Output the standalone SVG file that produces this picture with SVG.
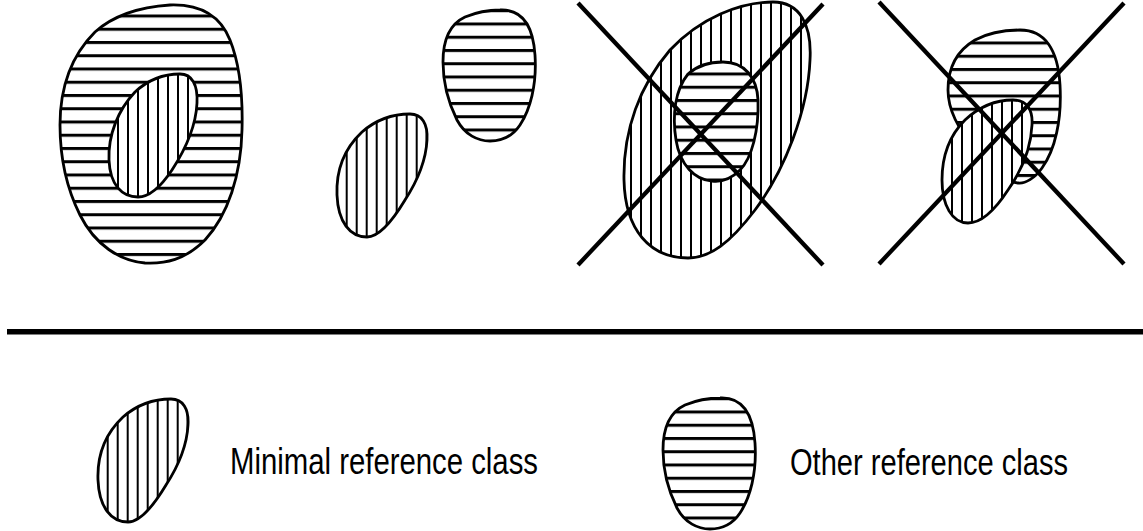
<svg xmlns="http://www.w3.org/2000/svg" width="1143" height="531" viewBox="0 0 1143 531">
<style>
.blob{stroke:#000;stroke-width:2.8;stroke-linejoin:round}
.cross{stroke:#000;stroke-width:4.3;stroke-linecap:butt}
.lbl{font-family:"Liberation Sans",Arial,sans-serif;font-size:37px;fill:#000}
</style>
<defs>
<pattern id="hA" patternUnits="userSpaceOnUse" x="0" y="14.5" width="20" height="13.25"><rect width="20" height="13.25" fill="#fff"/><rect width="20" height="3" fill="#000"/></pattern>
<pattern id="hB" patternUnits="userSpaceOnUse" x="0" y="22.5" width="20" height="13.25"><rect width="20" height="13.25" fill="#fff"/><rect width="20" height="3" fill="#000"/></pattern>
<pattern id="hC" patternUnits="userSpaceOnUse" x="0" y="72.5" width="20" height="13.25"><rect width="20" height="13.25" fill="#fff"/><rect width="20" height="3" fill="#000"/></pattern>
<pattern id="hD" patternUnits="userSpaceOnUse" x="0" y="41.5" width="20" height="13.25"><rect width="20" height="13.25" fill="#fff"/><rect width="20" height="3" fill="#000"/></pattern>
<pattern id="vA" patternUnits="userSpaceOnUse" x="127" y="0" width="10" height="20"><rect width="10" height="20" fill="#fff"/><rect width="2" height="20" fill="#000"/></pattern>
<pattern id="vB" patternUnits="userSpaceOnUse" x="345.7" y="0" width="10" height="20"><rect width="10" height="20" fill="#fff"/><rect width="2" height="20" fill="#000"/></pattern>
<pattern id="vC" patternUnits="userSpaceOnUse" x="630" y="0" width="10" height="20"><rect width="10" height="20" fill="#fff"/><rect width="2" height="20" fill="#000"/></pattern>
<pattern id="vD" patternUnits="userSpaceOnUse" x="951" y="0" width="10" height="20"><rect width="10" height="20" fill="#fff"/><rect width="2" height="20" fill="#000"/></pattern>
<path id="vshape" d="M 410,114 C 422,114 428,124 427,140 C 426,160 418,180 405,200 C 393,220 380,237 367,237 C 350,237 338,222 337,195 C 336,170 345,148 362,132 C 378,118 395,114 410,114 Z"/>
<path id="hshape" d="M 500,10 C 522,9 533,25 535,55 C 537,85 530,110 520,125 C 512,137 500,141 490,141 C 478,141 465,135 457,120 C 448,102 443,80 443,62 C 443,40 450,24 465,17 C 477,12 488,10 500,10 Z"/>
</defs>
<rect width="1143" height="531" fill="#fff"/>

<g id="panel1">
<path class="blob" fill="url(#hA)" d="M 170,5 C 200,4 220,15 230,40 C 240,65 243,95 242,130 C 241,175 228,215 205,240 C 185,260 165,264 145,263 C 120,261 95,245 80,215 C 65,185 60,155 60,125 C 60,85 72,55 95,32 C 115,14 140,7 170,5 Z"/>
<path class="blob" fill="url(#vA)" d="M 180,74 C 192,74 198,85 197,103 C 196,125 185,150 172,170 C 160,188 148,197 138,197 C 122,197 110,185 109,160 C 108,135 118,110 135,92 C 150,78 165,74 180,74 Z"/>
</g>

<g id="panel2">
<use href="#vshape" class="blob" fill="url(#vB)"/>
<use href="#hshape" class="blob" fill="url(#hB)"/>
</g>

<g id="panel3">
<path class="blob" fill="url(#vC)" d="M 773,2 C 800,2 812,25 810,60 C 808,110 785,170 755,210 C 730,243 710,258 688,258 C 650,258 625,230 624,180 C 623,130 640,85 670,50 C 700,18 740,2 773,2 Z"/>
<path class="blob" fill="url(#hC)" d="M 723,62 C 745,62 757,78 758,100 C 759,130 752,158 740,170 C 730,180 720,182 712,181 C 695,180 680,165 676,140 C 672,115 675,90 688,74 C 698,65 710,62 723,62 Z"/>
</g>

<g id="panel4">
<path class="blob" fill="url(#hD)" d="M 1020,30 C 1045,30 1058,50 1060,85 C 1062,120 1055,150 1042,168 C 1035,178 1025,184 1018,183 C 1005,182 990,170 975,150 C 958,128 948,110 948,90 C 948,65 958,50 975,40 C 988,33 1003,30 1020,30 Z"/>
<path class="blob" fill="url(#vD)" d="M 1013,100 C 1027,100 1033,110 1032,125 C 1031,148 1022,170 1008,190 C 995,210 982,223 968,223 C 952,223 942,205 942,180 C 942,155 950,135 965,120 C 980,106 997,100 1013,100 Z"/>
</g>

<g id="connectors">
<line class="cross" x1="578" y1="3" x2="823" y2="265"/>
<line class="cross" x1="823" y1="4" x2="578" y2="265"/>
<line class="cross" x1="879" y1="2" x2="1124" y2="264"/>
<line class="cross" x1="1124" y1="3" x2="879" y2="264"/>
</g>

<g id="divider">
<rect x="7" y="329" width="1136" height="5.5" fill="#000"/>
</g>

<g id="legend-minimal">
<use href="#vshape" class="blob" fill="url(#vB)" transform="translate(-239,285)"/>
<text class="lbl" x="230" y="474" textLength="308" lengthAdjust="spacingAndGlyphs">Minimal reference class</text>
</g>

<g id="legend-other">
<use href="#hshape" class="blob" fill="url(#hB)" transform="translate(220,388)"/>
<text class="lbl" x="790" y="475" textLength="278" lengthAdjust="spacingAndGlyphs">Other reference class</text>
</g>
</svg>
